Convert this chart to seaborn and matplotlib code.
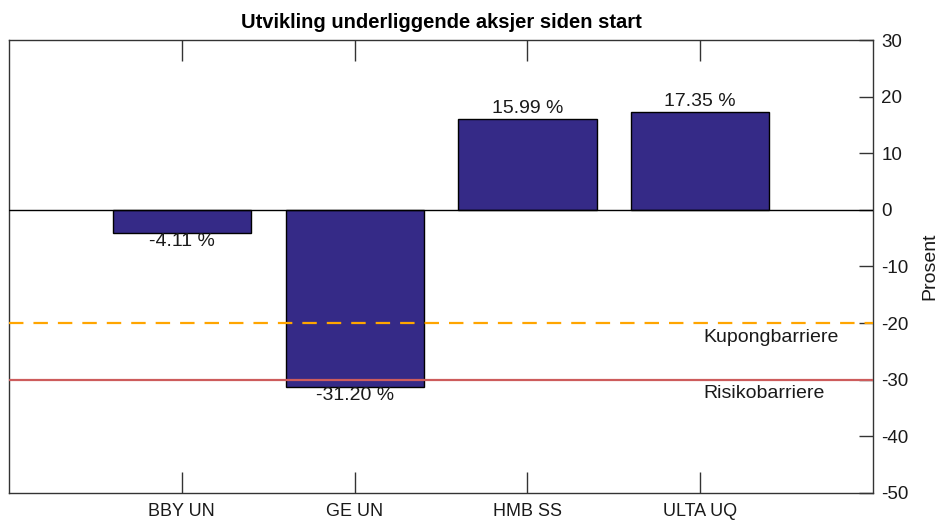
import matplotlib
matplotlib.use('Agg')
import matplotlib.pyplot as plt
import seaborn as sns

TICKERS = ['BBY UN', 'GE UN', 'HMB SS', 'ULTA UQ']
RETURNS = [-4.11, -31.20, 15.99, 17.35]
COUPON_BARRIER = -20
RISK_BARRIER = -30
Y_TICKS = [30, 20, 10, 0, -10, -20, -30, -40, -50]

sns.set_theme(style='white')
plt.rcParams['font.family'] = ['Liberation Sans', 'DejaVu Sans']

TXT = '#1a1a1a'

fig = plt.figure(figsize=(9.42, 5.23), dpi=100)
ax = fig.add_axes([0.0096, 0.0574, 0.9172, 0.8661])

sns.barplot(x=TICKERS, y=RETURNS, color='#352A87', saturation=1,
            edgecolor='black', linewidth=1, width=0.8, ax=ax, zorder=2)

ax.axhline(0, color='black', lw=1, zorder=3)
ax.axhline(COUPON_BARRIER, color='#FFA500', lw=1.6, ls=(0, (6.5, 4.5)), zorder=3)
ax.axhline(RISK_BARRIER, color='#CD5C5C', lw=1.6, zorder=3)

# value labels above positive bars, below negative ones
for i, v in enumerate(RETURNS):
    if v >= 0:
        ax.annotate(f'{v:.2f} %', (i, v), xytext=(0, 1.5), textcoords='offset points',
                    ha='center', va='bottom', fontsize=14, color=TXT)
    else:
        ax.annotate(f'{v:.2f} %', (i, v), xytext=(0, 0), textcoords='offset points',
                    ha='center', va='top', fontsize=14, color=TXT)

ax.annotate('Kupongbarriere', (3.016, COUPON_BARRIER), xytext=(0, -4), textcoords='offset points',
            ha='left', va='top', fontsize=14, color=TXT)
ax.annotate('Risikobarriere', (3.016, RISK_BARRIER), xytext=(0, -4), textcoords='offset points',
            ha='left', va='top', fontsize=14, color=TXT)

ax.set_xlim(-1, 4)
ax.set_ylim(-50, 30)
ax.set_yticks(Y_TICKS)
ax.set_yticklabels([str(t) for t in Y_TICKS], fontsize=13.5, color=TXT)
ax.yaxis.tick_right()
ax.yaxis.set_label_position('right')
ax.set_ylabel('Prosent', fontsize=14, color=TXT, labelpad=9)
ax.set_xlabel('')
ax.tick_params(axis='y', direction='in', length=10, width=1, color='#333333', pad=6,
               left=False, right=True)
ax.tick_params(axis='x', direction='in', length=15, width=1, color='#333333', pad=7,
               top=True, bottom=True, labelsize=13, labelcolor=TXT)

for s in ax.spines.values():
    s.set_visible(True)
    s.set_color('#333333')
    s.set_linewidth(1)

ax.set_title('Utvikling underliggende aksjer siden start', fontsize=14.5,
             fontweight='bold', pad=9, color='black')

fig.savefig('out.png', dpi=100)
